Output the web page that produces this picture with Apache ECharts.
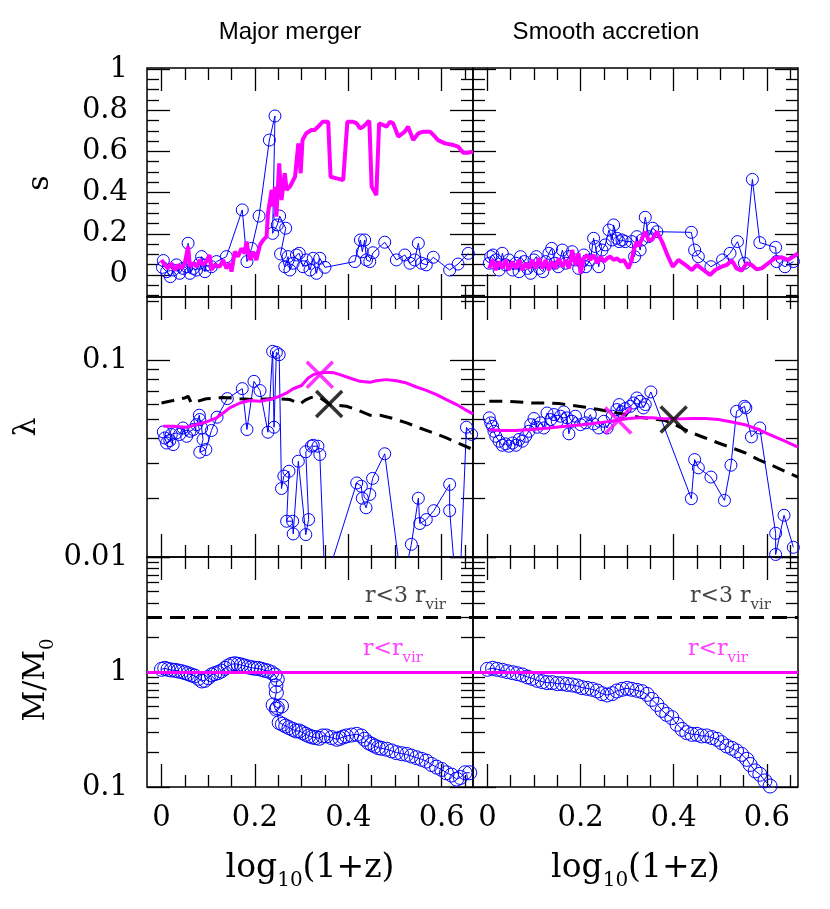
<!DOCTYPE html>
<html>
<head>
<meta charset="utf-8">
<script src="https://cdn.jsdelivr.net/npm/echarts@6.0.0/dist/echarts.min.js"></script>
<style>
  html, body { margin: 0; padding: 0; background: #fff; }
  #chart { width: 830px; height: 909px; }
</style>
</head>
<body>
<div id="chart"></div>
<script>
// tick values
const xMajor = [0, 0.2, 0.4, 0.6]
const xMinor = [0.05, 0.1, 0.15, 0.25, 0.3, 0.35, 0.45, 0.5, 0.55, 0.65]
const sMajor = [0, 0.2, 0.4, 0.6, 0.8, 1]
const sMinor = [-0.1, -0.05, 0.05, 0.1, 0.15, 0.25, 0.3, 0.35, 0.45, 0.5, 0.55, 0.65, 0.7, 0.75, 0.85, 0.9, 0.95]
const lamMajor = [0.01, 0.1]
const lamMinor = [0.02, 0.03, 0.04, 0.05, 0.06, 0.07, 0.08, 0.09, 0.2]
const massMajor = [0.1, 1, 10]
const massMinor = [0.2, 0.3, 0.4, 0.5, 0.6, 0.7, 0.8, 0.9, 2, 3, 4, 5, 6, 7, 8, 9]
const massLabels = [0.1, 1]

// spin parameter s, major merger
const mergerSVir = [[0,0.073],[0.007,0.049],[0.014,0.032],[0.021,0.057],[0.029,0.024],[0.036,0.049],[0.043,0.032],[0.05,0.057],[0.057,0.138],[0.061,0.04],[0.068,0.057],[0.075,0.04],[0.082,0.073],[0.089,0.049],[0.096,0.065],[0.103,0.097],[0.107,0.024],[0.114,0.049],[0.125,0.04],[0.132,0.073],[0.139,0.032],[0.146,0.057],[0.15,0.016],[0.157,0.113],[0.164,0.089],[0.171,0.129],[0.178,0.105],[0.182,0.162],[0.189,0.073],[0.196,0.113],[0.203,0.073],[0.211,0.146],[0.218,0.17],[0.225,0.186],[0.228,0.299],[0.236,0.413],[0.239,0.332],[0.243,0.429],[0.246,0.283],[0.252,0.542],[0.257,0.364],[0.264,0.494],[0.268,0.413],[0.275,0.429],[0.286,0.477],[0.289,0.477],[0.293,0.639],[0.298,0.494],[0.302,0.655],[0.31,0.688],[0.321,0.704],[0.328,0.704],[0.339,0.728],[0.345,0.744],[0.357,0.744],[0.362,0.477],[0.375,0.469],[0.389,0.461],[0.398,0.744],[0.41,0.744],[0.418,0.736],[0.425,0.712],[0.432,0.72],[0.445,0.749],[0.45,0.429],[0.46,0.388],[0.466,0.736],[0.475,0.728],[0.482,0.72],[0.489,0.744],[0.496,0.736],[0.507,0.672],[0.521,0.696],[0.528,0.72],[0.539,0.655],[0.55,0.688],[0.56,0.696],[0.575,0.696],[0.582,0.68],[0.592,0.655],[0.607,0.639],[0.625,0.631],[0.635,0.623],[0.646,0.594],[0.657,0.594],[0.667,0.599]]
const mergerSPts = [[0.004,0.07],[0.002,0.037],[0.011,0.016],[0.019,-0.008],[0.025,0.024],[0.032,0.049],[0.039,0.008],[0.046,0.032],[0.054,0.04],[0.057,0.154],[0.061,0.008],[0.068,0.032],[0.075,0.024],[0.082,0.057],[0.086,0.089],[0.093,0.016],[0.096,0.049],[0.107,0.04],[0.118,0.065],[0.139,0.089],[0.173,0.316],[0.183,0.065],[0.193,0.129],[0.209,0.286],[0.231,0.655],[0.243,0.772],[0.238,0.202],[0.248,0.243],[0.253,0.286],[0.266,0.227],[0.255,0.102],[0.264,0.04],[0.271,0.089],[0.275,0.024],[0.282,0.057],[0.289,0.097],[0.295,0.105],[0.303,0.04],[0.31,0.073],[0.318,0.024],[0.325,0.081],[0.332,0.008],[0.339,0.081],[0.35,0.037],[0.414,0.065],[0.426,0.17],[0.43,0.113],[0.435,0.17],[0.439,0.073],[0.446,0.065],[0.453,0.108],[0.478,0.159],[0.503,0.073],[0.521,0.097],[0.532,0.057],[0.542,0.073],[0.55,0.154],[0.557,0.057],[0.567,0.049],[0.582,0.086],[0.617,0.024],[0.635,0.053],[0.657,0.105]]

// spin parameter s, smooth accretion
const accrSVir = [[0.004,0.032],[0.011,0.073],[0.018,0.024],[0.025,0.065],[0.032,0.032],[0.039,0.073],[0.046,0.024],[0.054,0.065],[0.061,0.032],[0.068,0.073],[0.075,0.024],[0.082,0.057],[0.089,0.032],[0.096,0.073],[0.103,0.032],[0.111,0.081],[0.118,0.032],[0.125,0.073],[0.132,0.024],[0.139,0.065],[0.146,0.032],[0.153,0.081],[0.161,0.04],[0.168,0.073],[0.175,0.032],[0.182,0.121],[0.189,0.049],[0.196,0.105],[0.2,0.008],[0.207,0.081],[0.214,0.097],[0.221,0.073],[0.228,0.097],[0.236,0.057],[0.243,0.089],[0.25,0.065],[0.257,0.081],[0.264,0.089],[0.271,0.073],[0.278,0.081],[0.286,0.065],[0.293,0.073],[0.303,0.032],[0.31,0.073],[0.314,0.121],[0.321,0.162],[0.325,0.138],[0.332,0.178],[0.339,0.21],[0.346,0.17],[0.353,0.17],[0.364,0.21],[0.375,0.162],[0.385,0.105],[0.398,0.04],[0.41,0.073],[0.425,0.049],[0.439,0.024],[0.45,0.049],[0.464,0.024],[0.478,0],[0.489,0.024],[0.503,0.04],[0.514,0.049],[0.525,0.07],[0.535,0.032],[0.546,0.021],[0.557,0.057],[0.567,0.049],[0.578,0.028],[0.589,0.032],[0.603,0.057],[0.617,0.081],[0.632,0.086],[0.646,0.073],[0.657,0.089],[0.667,0.105]]
const accrSPts = [[0.004,0.057],[0.007,0.089],[0.012,0.097],[0.018,0.073],[0.025,0.024],[0.032,0.105],[0.039,0.049],[0.046,0.073],[0.054,0.024],[0.061,0.057],[0.068,0.016],[0.071,0.089],[0.079,0.065],[0.086,0.032],[0.093,0.008],[0.1,0.073],[0.105,0.089],[0.112,0.032],[0.119,0.016],[0.125,0.065],[0.132,0.105],[0.138,0.129],[0.145,0.057],[0.152,0.04],[0.161,0.121],[0.168,0.057],[0.175,0.089],[0.182,0.113],[0.189,0.073],[0.196,0.032],[0.207,0.097],[0.211,0.04],[0.221,0.073],[0.228,0.178],[0.232,0.138],[0.239,0.04],[0.246,0.121],[0.253,0.146],[0.261,0.218],[0.268,0.17],[0.271,0.243],[0.278,0.178],[0.283,0.162],[0.289,0.17],[0.296,0.162],[0.31,0.162],[0.316,0.089],[0.321,0.186],[0.328,0.121],[0.332,0.17],[0.339,0.28],[0.346,0.186],[0.355,0.227],[0.364,0.21],[0.438,0.207],[0.445,0.121],[0.453,0.089],[0.48,0.04],[0.505,0.073],[0.521,0.105],[0.537,0.162],[0.552,0.057],[0.569,0.464],[0.585,0.157],[0.619,0.134],[0.621,0.065],[0.639,0.04],[0.657,0.065]]

// lambda, major merger
const mergerLamVir = [[0.004,0.0462],[0.025,0.0462],[0.054,0.0457],[0.075,0.0471],[0.096,0.0486],[0.118,0.051],[0.132,0.054],[0.146,0.0573],[0.168,0.0607],[0.189,0.0625],[0.211,0.0619],[0.232,0.0632],[0.253,0.0657],[0.268,0.0683],[0.282,0.0717],[0.3,0.0745],[0.314,0.0813],[0.325,0.0846],[0.339,0.0862],[0.353,0.0869],[0.368,0.0866],[0.382,0.0846],[0.403,0.0813],[0.425,0.0782],[0.446,0.0773],[0.46,0.0788],[0.482,0.0798],[0.503,0.0788],[0.525,0.0767],[0.546,0.0732],[0.567,0.0704],[0.589,0.0669],[0.61,0.0632],[0.632,0.0596],[0.65,0.0562],[0.667,0.0534]]
const mergerLam3Vir = [[0,0.0607],[0.025,0.0625],[0.05,0.0644],[0.057,0.0657],[0.064,0.0607],[0.096,0.0638],[0.132,0.0648],[0.168,0.0638],[0.196,0.0632],[0.225,0.0636],[0.253,0.0638],[0.275,0.0632],[0.296,0.06],[0.31,0.0632],[0.321,0.0648],[0.339,0.0648],[0.36,0.0596],[0.396,0.0584],[0.418,0.0562],[0.446,0.0526],[0.468,0.0526],[0.496,0.0506],[0.525,0.0481],[0.553,0.0453],[0.582,0.0428],[0.61,0.0403],[0.639,0.0376],[0.667,0.0352]]
const mergerLamPts = [[0.004,0.0433],[0.007,0.0403],[0.011,0.038],[0.018,0.0391],[0.025,0.0373],[0.021,0.042],[0.032,0.0428],[0.039,0.042],[0.046,0.0453],[0.054,0.0411],[0.061,0.0436],[0.068,0.0445],[0.075,0.0471],[0.081,0.0526],[0.082,0.05],[0.086,0.0453],[0.089,0.0396],[0.082,0.0341],[0.095,0.0352],[0.107,0.044],[0.119,0.0514],[0.141,0.0639],[0.173,0.0718],[0.183,0.0445],[0.198,0.0782],[0.211,0.0702],[0.228,0.0431],[0.238,0.1111],[0.241,0.0457],[0.246,0.1098],[0.252,0.1069],[0.257,0.0223],[0.262,0.0258],[0.273,0.0273],[0.268,0.0152],[0.281,0.0152],[0.282,0.0131],[0.293,0.0307],[0.309,0.013],[0.315,0.0155],[0.309,0.0343],[0.321,0.0366],[0.325,0.037],[0.335,0.0366],[0.339,0.0332],[0.35,0.0073],[0.418,0.0238],[0.428,0.0229],[0.43,0.0199],[0.438,0.0178],[0.446,0.0208],[0.452,0.0251],[0.478,0.0335],[0.515,0.007],[0.535,0.0116],[0.55,0.0199],[0.553,0.0148],[0.567,0.0155],[0.583,0.0172],[0.617,0.0234],[0.617,0.0172],[0.636,0.0049],[0.653,0.0457],[0.664,0.042]]
const mergerPeakVir = [[0.339,0.0846]]
const mergerPeak3Vir = [[0.359,0.06]]

// lambda, smooth accretion
const accrLamVir = [[0.004,0.0445],[0.025,0.044],[0.061,0.044],[0.096,0.0445],[0.132,0.0453],[0.168,0.0462],[0.203,0.0471],[0.239,0.0481],[0.275,0.0494],[0.303,0.0506],[0.325,0.051],[0.353,0.051],[0.382,0.0504],[0.41,0.0504],[0.439,0.0506],[0.468,0.0506],[0.496,0.05],[0.525,0.0486],[0.553,0.0471],[0.582,0.0445],[0.61,0.0416],[0.639,0.0388],[0.667,0.0362]]
const accrLam3Vir = [[0.004,0.0619],[0.039,0.0619],[0.068,0.0614],[0.096,0.0607],[0.132,0.0607],[0.153,0.0603],[0.182,0.0591],[0.211,0.0577],[0.239,0.0562],[0.268,0.0547],[0.296,0.053],[0.325,0.0514],[0.353,0.0506],[0.382,0.0494],[0.41,0.0462],[0.439,0.0428],[0.468,0.0403],[0.496,0.038],[0.525,0.0359],[0.553,0.0339],[0.582,0.0313],[0.61,0.0293],[0.639,0.0273],[0.667,0.0255]]
const accrLamPts = [[0.004,0.051],[0.007,0.0481],[0.011,0.0462],[0.014,0.0436],[0.018,0.0411],[0.025,0.0388],[0.032,0.037],[0.039,0.0376],[0.046,0.0366],[0.054,0.038],[0.061,0.037],[0.068,0.0396],[0.075,0.0388],[0.082,0.0411],[0.089,0.0436],[0.093,0.0471],[0.1,0.0506],[0.107,0.0457],[0.114,0.0481],[0.121,0.0453],[0.128,0.054],[0.136,0.05],[0.143,0.053],[0.15,0.049],[0.157,0.052],[0.164,0.0547],[0.171,0.051],[0.175,0.0423],[0.182,0.049],[0.189,0.052],[0.2,0.0471],[0.211,0.0481],[0.221,0.053],[0.228,0.0475],[0.239,0.0453],[0.25,0.049],[0.257,0.0453],[0.268,0.052],[0.278,0.0562],[0.283,0.0596],[0.289,0.0547],[0.296,0.0568],[0.307,0.0584],[0.314,0.0607],[0.321,0.0644],[0.328,0.0619],[0.335,0.0573],[0.339,0.0596],[0.351,0.0691],[0.438,0.0198],[0.445,0.0313],[0.453,0.0284],[0.48,0.0255],[0.509,0.0194],[0.523,0.0293],[0.535,0.0551],[0.552,0.0584],[0.555,0.0573],[0.567,0.0408],[0.585,0.0453],[0.619,0.0132],[0.619,0.0103],[0.637,0.0163],[0.657,0.0112]]
const accrPeakVir = [[0.281,0.0494]]
const accrPeak3Vir = [[0.4,0.05]]

// M/M0
const massVir = 1
const mass3Vir = 3
const mergerMass = [[0,1.055],[0.007,1.076],[0.014,1.055],[0.021,1.041],[0.029,1.034],[0.036,1.02],[0.043,1.007],[0.05,0.987],[0.057,0.967],[0.064,0.942],[0.071,0.923],[0.079,0.881],[0.086,0.835],[0.093,0.846],[0.1,0.893],[0.107,0.942],[0.114,0.967],[0.121,0.987],[0.128,1.02],[0.136,1.076],[0.143,1.128],[0.15,1.166],[0.157,1.181],[0.164,1.166],[0.171,1.15],[0.178,1.128],[0.186,1.105],[0.193,1.091],[0.2,1.076],[0.207,1.076],[0.214,1.055],[0.221,1.034],[0.228,1.02],[0.236,0.987],[0.243,0.942],[0.248,0.863],[0.245,0.756],[0.246,0.661],[0.239,0.516],[0.248,0.49],[0.257,0.506],[0.246,0.474],[0.252,0.363],[0.259,0.351],[0.266,0.339],[0.273,0.328],[0.281,0.317],[0.288,0.307],[0.295,0.307],[0.302,0.297],[0.309,0.287],[0.316,0.278],[0.323,0.272],[0.33,0.269],[0.338,0.265],[0.345,0.278],[0.353,0.278],[0.364,0.269],[0.375,0.26],[0.382,0.265],[0.389,0.272],[0.396,0.278],[0.407,0.283],[0.418,0.287],[0.428,0.278],[0.435,0.26],[0.443,0.243],[0.45,0.235],[0.457,0.227],[0.464,0.22],[0.471,0.217],[0.482,0.213],[0.493,0.206],[0.503,0.199],[0.514,0.195],[0.525,0.192],[0.535,0.186],[0.546,0.18],[0.557,0.174],[0.567,0.168],[0.578,0.157],[0.589,0.149],[0.6,0.142],[0.61,0.133],[0.621,0.127],[0.632,0.117],[0.64,0.121],[0.65,0.133],[0.66,0.133]]
const accrMass = [[0,1.055],[0.011,1.076],[0.021,1.055],[0.032,1.034],[0.043,1.007],[0.054,0.987],[0.064,0.967],[0.075,0.942],[0.086,0.905],[0.096,0.881],[0.107,0.846],[0.118,0.824],[0.128,0.808],[0.139,0.808],[0.15,0.792],[0.161,0.792],[0.171,0.781],[0.182,0.771],[0.193,0.756],[0.203,0.731],[0.214,0.721],[0.225,0.707],[0.236,0.684],[0.246,0.648],[0.257,0.631],[0.268,0.648],[0.278,0.684],[0.289,0.707],[0.3,0.721],[0.31,0.707],[0.321,0.693],[0.332,0.675],[0.343,0.639],[0.353,0.578],[0.364,0.523],[0.375,0.464],[0.385,0.428],[0.396,0.401],[0.407,0.351],[0.418,0.317],[0.428,0.297],[0.439,0.287],[0.45,0.287],[0.46,0.278],[0.471,0.278],[0.482,0.269],[0.493,0.26],[0.503,0.243],[0.514,0.227],[0.525,0.217],[0.535,0.206],[0.546,0.192],[0.557,0.174],[0.564,0.157],[0.575,0.138],[0.585,0.129],[0.596,0.113],[0.607,0.102],[0.614,0.0954]]

const SERIF = 'DejaVu Serif'
const SANS = 'Liberation Sans'
const BLUE = '#0000ff'
const MAGENTA = '#ff00ff'

const cols = [{ left: 147, width: 326 }, { left: 473, width: 325 }]
const rows = [{ top: 68, height: 229 }, { top: 297, height: 260 }, { top: 557, height: 230 }]

const grids = []
const xAxes = []
const yAxes = []
const series = []

// four axes per pair of sides: main (major ticks + labels), minor, opposite major, opposite minor
function pushAxes(list, dim, g, base, majors, minors, labels, extra) {
  const pos = dim === 'x' ? ['bottom', 'top'] : ['left', 'right']
  pos.forEach((p, side) => {
    ;[[majors, 23], [minors, 12]].forEach(([vals, len], k) => {
      const isMain = side === 0 && k === 0
      const ax = Object.assign({}, base, {
        gridIndex: g,
        position: p,
        axisLine: { show: false, onZero: false },
        splitLine: { show: false },
        axisTick: { show: true, inside: true, length: len, customValues: vals, lineStyle: { color: '#000', width: 1.3 } },
        axisLabel: (isMain && labels)
          ? { show: true, customValues: labels, fontFamily: SERIF, fontSize: 29, color: '#000', margin: dim === 'x' ? 17 : 19 }
          : { show: false }
      })
      if (isMain && extra) Object.assign(ax, extra)
      list.push(ax)
    })
  })
}

const xName = {
  name: '{m|log}{s|10}{m|(1+z)}',
  nameLocation: 'middle',
  nameGap: 58,
  nameTextStyle: {
    rich: {
      m: { fontFamily: SERIF, fontSize: 33, color: '#000' },
      s: { fontFamily: SERIF, fontSize: 20, color: '#000', padding: [26, 0, 0, 0] }
    }
  }
}

const yBases = [
  { type: 'value', min: -0.107, max: 1.005 },
  { type: 'log', logBase: 10, min: 0.01, max: 0.21 },
  { type: 'log', logBase: 10, min: 0.1, max: 10 }
]
const yMaj = [sMajor, lamMajor, massMajor]
const yMin = [sMinor, lamMinor, massMinor]
const yLab = [sMajor, lamMajor, massLabels]

rows.forEach((r, ri) => {
  cols.forEach((c, ci) => {
    const g = grids.length
    grids.push({ left: c.left, width: c.width, top: r.top, height: r.height, show: true, borderColor: '#000', borderWidth: 1.5, backgroundColor: 'transparent' })
    pushAxes(xAxes, 'x', g, { type: 'value', min: -0.031, max: 0.667 }, xMajor, xMinor, ri === 2 ? xMajor : null, ri === 2 ? xName : null)
    pushAxes(yAxes, 'y', g, yBases[ri], yMaj[ri], yMin[ri], ci === 0 ? yLab[ri] : null, null)
  })
})

function pts(g, data, size) {
  return { type: 'line', xAxisIndex: 4 * g, yAxisIndex: 4 * g, data, symbol: 'circle', symbolSize: size || 12, showAllSymbol: true,
    lineStyle: { color: BLUE, width: 1 }, itemStyle: { color: 'rgba(0,0,0,0)', borderColor: BLUE, borderWidth: 1 }, z: 2 }
}
function curve(g, data, color, width, dashed) {
  return { type: 'line', xAxisIndex: 4 * g, yAxisIndex: 4 * g, data, symbol: 'none',
    lineStyle: { color, width, type: dashed ? [13, 8] : 'solid' }, z: 3 }
}
function cross(g, data, color) {
  return { type: 'scatter', xAxisIndex: 4 * g, yAxisIndex: 4 * g, data, symbol: 'path://M0,0L10,10M10,0L0,10', symbolSize: 26,
    itemStyle: { color: 'rgba(0,0,0,0)', borderColor: color, borderWidth: 3.5 }, z: 4 }
}
function levels(g) {
  return { type: 'line', xAxisIndex: 4 * g, yAxisIndex: 4 * g, data: [], z: 3,
    markLine: { silent: true, symbol: 'none', label: { show: false },
      data: [
        { yAxis: mass3Vir, lineStyle: { color: '#000', width: 3, type: [15, 8] } },
        { yAxis: massVir, lineStyle: { color: MAGENTA, width: 3, type: 'solid' } }
      ] } }
}

series.push(pts(0, mergerSPts), curve(0, mergerSVir, MAGENTA, 4))
series.push(pts(1, accrSPts), curve(1, accrSVir, MAGENTA, 4))
series.push(pts(2, mergerLamPts), curve(2, mergerLam3Vir, '#000', 3, true), curve(2, mergerLamVir, MAGENTA, 3),
  cross(2, mergerPeakVir, MAGENTA), cross(2, mergerPeak3Vir, '#000'))
series.push(pts(3, accrLamPts), curve(3, accrLam3Vir, '#000', 3, true), curve(3, accrLamVir, MAGENTA, 3),
  cross(3, accrPeakVir, MAGENTA), cross(3, accrPeak3Vir, '#000'))
series.push(pts(4, mergerMass, 14), levels(4))
series.push(pts(5, accrMass, 14), levels(5))

// rich text with a subscript; zrender uses fill for colour
const subRich = (size, sub, color) => ({
  m: { fontFamily: SERIF, fontSize: size, fill: color },
  s: { fontFamily: SERIF, fontSize: sub, fill: color, padding: [Math.round(size * 0.8), 0, 0, 0] }
})

const graphic = [
  { type: 'text', x: 290, y: 32, style: { text: 'Major merger', fontFamily: SANS, fontSize: 24, fill: '#000', align: 'center', verticalAlign: 'middle' } },
  { type: 'text', x: 606, y: 32, style: { text: 'Smooth accretion', fontFamily: SANS, fontSize: 24, fill: '#000', align: 'center', verticalAlign: 'middle' } },
  { type: 'text', x: 40, y: 183, rotation: Math.PI / 2, style: { text: 's', fontFamily: SERIF, fontSize: 30, fill: '#000', align: 'center', verticalAlign: 'middle' } },
  { type: 'text', x: 27, y: 427, rotation: Math.PI / 2, style: { text: 'λ', fontFamily: SERIF, fontSize: 30, fill: '#000', align: 'center', verticalAlign: 'middle' } },
  { type: 'text', x: 36, y: 680, rotation: Math.PI / 2, style: { text: '{m|M/M}{s|0}', rich: subRich(30, 18, '#000'), align: 'center', verticalAlign: 'middle' } }
]
cols.forEach(c => {
  const right = c.left + c.width
  graphic.push(
    { type: 'text', x: right - 27, y: 596, style: { text: '{m|r<3 r}{s|vir}', rich: subRich(22, 15, '#444'), align: 'right', verticalAlign: 'middle' } },
    { type: 'text', x: right - 50, y: 649, style: { text: '{m|r<r}{s|vir}', rich: subRich(22, 15, '#ff40ff'), align: 'right', verticalAlign: 'middle' } }
  )
})

const chart = echarts.init(document.getElementById('chart'), null, { renderer: 'canvas' })
chart.setOption({
  animation: false,
  backgroundColor: '#fff',
  grid: grids,
  xAxis: xAxes,
  yAxis: yAxes,
  series,
  graphic
})
</script>
</body>
</html>
